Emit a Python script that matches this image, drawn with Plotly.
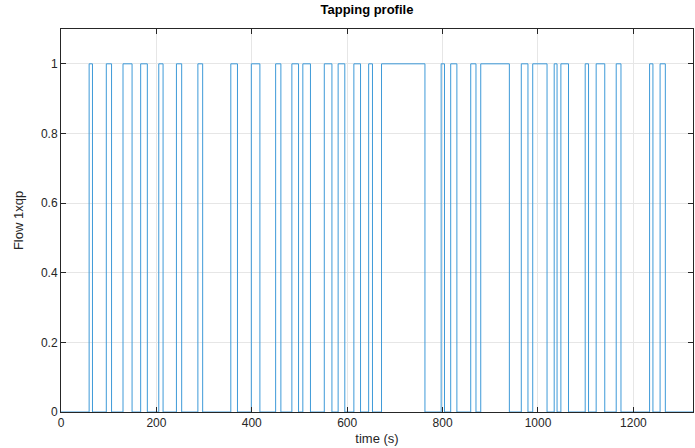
import plotly.graph_objects as go

# Pulse edges (time in s)
rises = [59, 95, 130, 167, 205, 242, 287, 356, 399, 450, 484, 507, 552, 581, 614,
         645, 672, 797, 817, 859, 880, 965, 989, 1034, 1048, 1099, 1122, 1164, 1234, 1256]
falls = [66, 106, 149, 181, 214, 253, 297, 370, 417, 461, 498, 523, 568, 595, 628,
         653, 763, 804, 830, 870, 940, 979, 1019, 1040, 1064, 1106, 1140, 1174, 1241, 1267]
t_end = 1325
x_ticks = [0, 200, 400, 600, 800, 1000, 1200]
y_ticks = [0, 0.2, 0.4, 0.6, 0.8, 1]

xs = [0]
ys = [0]
for r, f in zip(rises, falls):
    xs += [r, f]
    ys += [1, 0]
xs.append(t_end)
ys.append(0)

fig = go.Figure()
fig.add_trace(go.Scatter(x=xs, y=ys, mode="lines", line_shape="hv",
                         line=dict(color="#3E9AD8", width=1), showlegend=False))

axis_common = dict(showline=True, linecolor="#262626", linewidth=1, mirror="ticks",
                   ticks="inside", ticklen=5, tickcolor="#262626",
                   showgrid=True, gridcolor="#E6E6E6", gridwidth=1, zeroline=False,
                   tickfont=dict(family="Liberation Sans, Arial, sans-serif", size=12, color="#262626"))

fig.update_xaxes(range=[0, t_end], tickvals=x_ticks,
                 title=dict(text="time (s)", standoff=4,
                            font=dict(family="Liberation Sans, Arial, sans-serif", size=13, color="#262626")),
                 **axis_common)
fig.update_yaxes(range=[0, 1.1], tickvals=y_ticks, ticktext=["0", "0.2", "0.4", "0.6", "0.8", "1"],
                 title=dict(text="Flow 1xqp", standoff=14,
                            font=dict(family="Liberation Sans, Arial, sans-serif", size=13, color="#262626")),
                 **axis_common)

fig.update_layout(
    width=695, height=448,
    margin=dict(l=61, r=2, t=29, b=36),
    paper_bgcolor="white", plot_bgcolor="white",
    title=dict(text="<b>Tapping profile</b>", x=0.528, xanchor="center", y=0.99, yanchor="top",
               font=dict(family="Liberation Sans, Arial, sans-serif", size=13, color="black")),
)

fig.write_html("out.html")
